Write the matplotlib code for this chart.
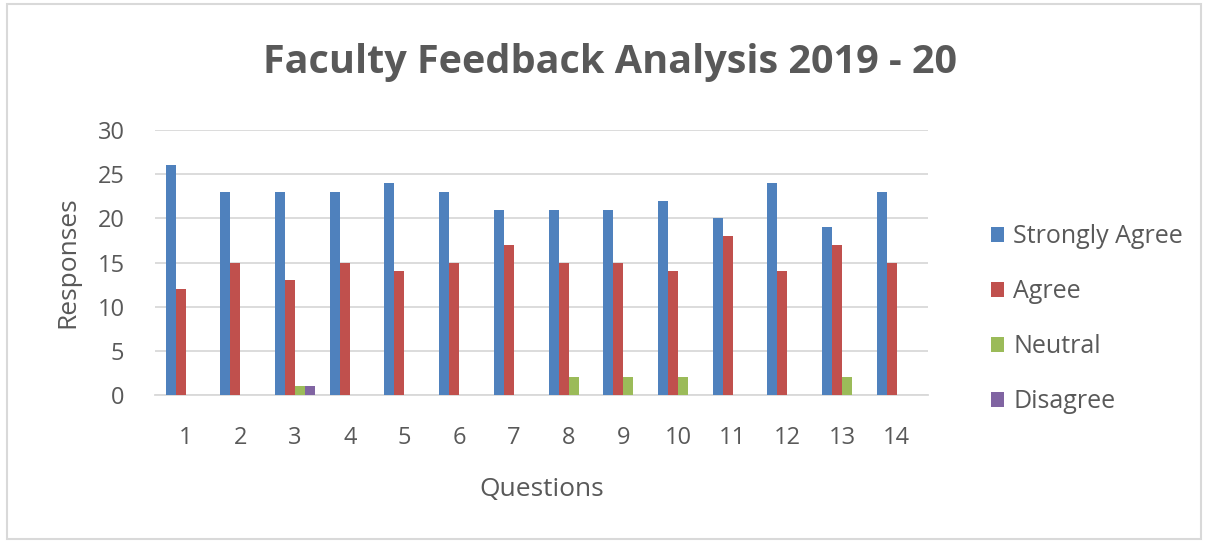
import numpy as np
import matplotlib
matplotlib.use('Agg')
import matplotlib.pyplot as plt
from matplotlib.patches import Rectangle


questions = [str(i) for i in range(1, 15)]
strongly_agree = [26, 23, 23, 23, 24, 23, 21, 21, 21, 22, 20, 24, 19, 23]
agree = [12, 15, 13, 15, 14, 15, 17, 15, 15, 14, 18, 14, 17, 15]
neutral = [0, 0, 1, 0, 0, 0, 0, 2, 2, 2, 0, 0, 2, 0]
disagree = [0, 0, 1, 0, 0, 0, 0, 0, 0, 0, 0, 0, 0, 0]

series = [('Strongly Agree', strongly_agree, '#4F81BD'),
          ('Agree', agree, '#C0504D'),
          ('Neutral', neutral, '#9BBB59'),
          ('Disagree', disagree, '#8064A2')]

txt = '#595959'
plt.rcParams['font.family'] = ['Open Sans', 'DejaVu Sans']

W, H = 1206, 541
fig = plt.figure(figsize=(W/100, H/100), dpi=100)
ax = fig.add_axes([155/W, 1-395/H, (928-155)/W, (395-130)/H])

# outer chart frame
fig.patches.append(Rectangle((7/W, 2/H), 1194/W, 535/H, transform=fig.transFigure,
                             fill=False, edgecolor='#D9D9D9', linewidth=1.5))

x = np.arange(len(questions))
bw = 0.183
for k, (name, vals, col) in enumerate(series):
    ax.bar(x + (k - 1.5)*bw, vals, bw, color=col, label=name, zorder=3)

ax.set_xlim(-0.56, 13.57)
ax.set_ylim(0, 30)
ax.set_yticks(range(0, 31, 5))
ax.set_xticks(x)
ax.set_xticklabels(questions)
ax.yaxis.grid(True, color='#D9D9D9', linewidth=1.3, zorder=0)
ax.set_axisbelow(True)
for s in ax.spines.values():
    s.set_visible(False)
ax.spines['bottom'].set_visible(True)
ax.spines['bottom'].set_color('#D9D9D9')
ax.spines['bottom'].set_linewidth(1.3)
ax.tick_params(length=0, labelsize=17, labelcolor=txt)
ax.tick_params(axis='y', pad=22)
ax.tick_params(axis='x', pad=22)

ax.set_xlabel('Questions', fontsize=19, color=txt, labelpad=20)
ax.set_ylabel('Responses', fontsize=19, color=txt, labelpad=12)

fig.text(610/W, 1-62/H, 'Faculty Feedback Analysis 2019 - 20', ha='center', va='center',
         fontsize=28.5, fontweight='bold', color=txt)

leg = ax.legend(loc='center left', bbox_to_anchor=(968/W, 1-319/H), bbox_transform=fig.transFigure,
                frameon=False, fontsize=18, labelspacing=1.2, handlelength=0.55,
                handleheight=0.55, handletextpad=0.35)
for t in leg.get_texts():
    t.set_color(txt)

fig.savefig('out.png', dpi=100)
